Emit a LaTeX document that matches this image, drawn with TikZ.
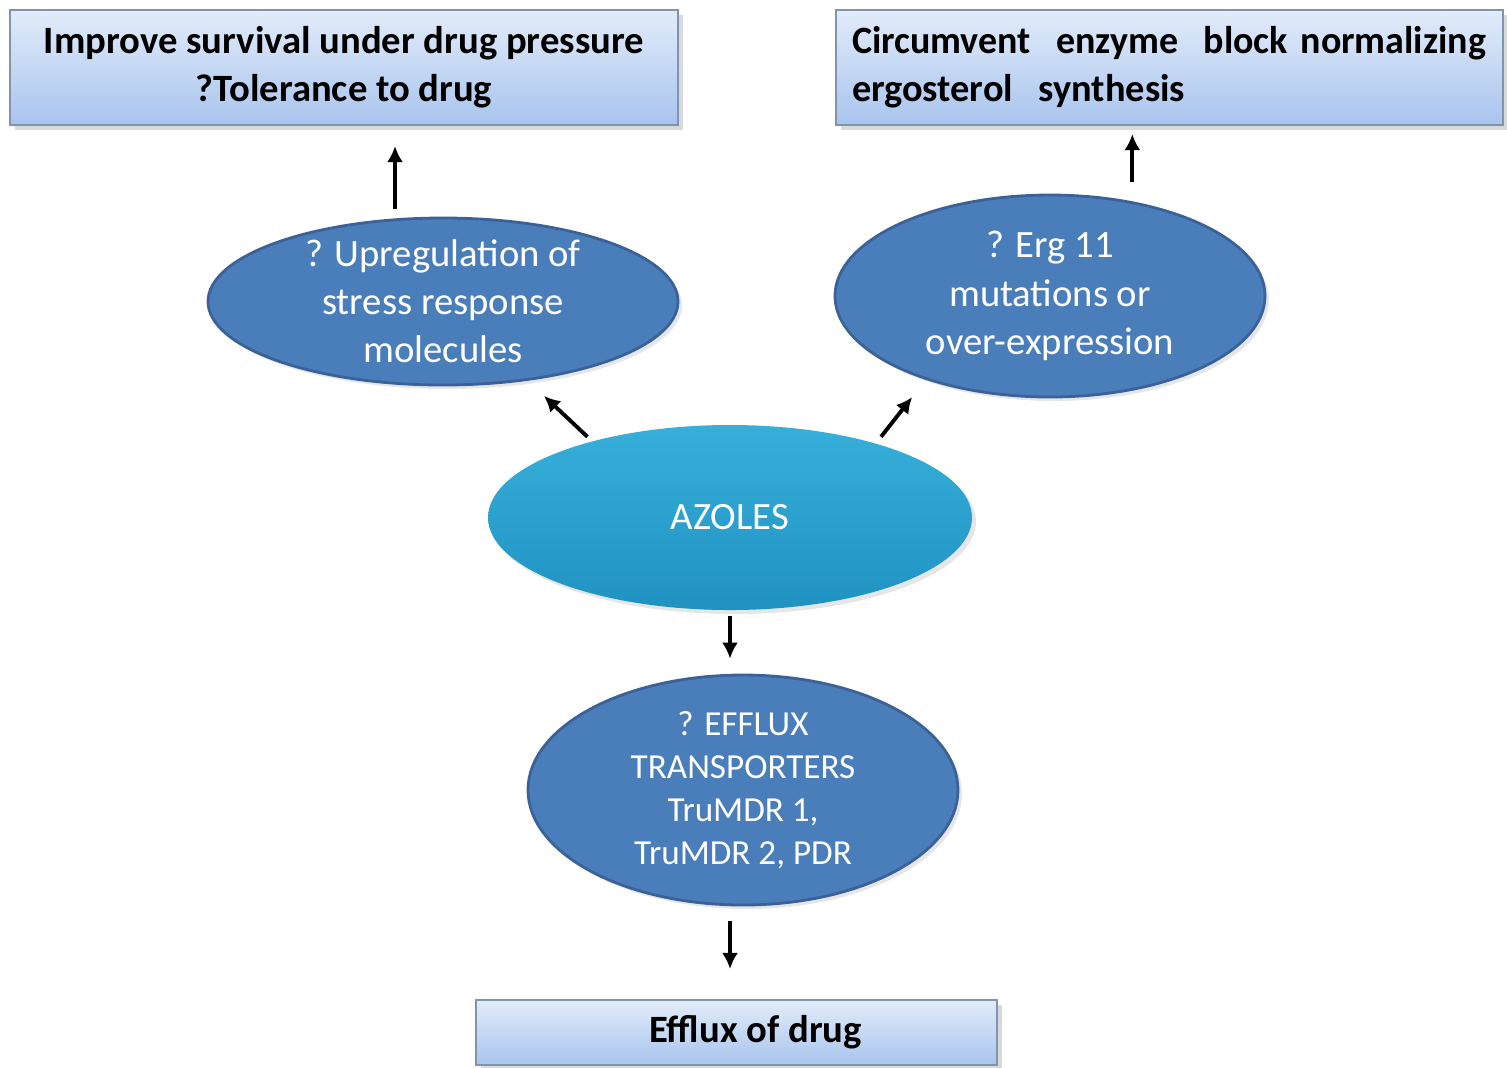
\documentclass[tikz,border=0pt]{standalone}
\usepackage{fontspec}
\setmainfont{Carlito}
\usetikzlibrary{shapes.geometric,arrows.meta,shadows}
\definecolor{boxtop}{HTML}{E2ECF9}
\definecolor{boxbot}{HTML}{A8C4EE}
\definecolor{boxline}{HTML}{8194AE}
\definecolor{ellfill}{HTML}{4A7EBB}
\definecolor{ellline}{HTML}{3A6298}
\definecolor{aztop}{HTML}{38AFDA}
\definecolor{azbot}{HTML}{1F92C2}
\tikzset{
  goal/.style={draw=boxline, line width=0.6pt, top color=boxtop, bottom color=boxbot,
    minimum width=6.68cm, minimum height=1.15cm, inner sep=0pt, align=center,
    font=\fontsize{11}{13.7}\selectfont\bfseries,
    drop shadow={shadow xshift=0.5mm, shadow yshift=-0.5mm, opacity=0.3}},
  cause/.style={ellipse, draw=ellline, line width=0.8pt, fill=ellfill, text=white,
    inner xsep=0pt, inner ysep=-1mm, align=center,
    font=\fontsize{11}{13.7}\selectfont,
    drop shadow={shadow xshift=0.4mm, shadow yshift=-0.4mm, opacity=0.2}},
  drug/.style={ellipse, top color=aztop, bottom color=azbot, text=white,
    inner sep=0pt, font=\fontsize{11}{13.7}\selectfont,
    drop shadow={shadow xshift=0.4mm, shadow yshift=-0.4mm, opacity=0.2}},
  push/.style={-{Latex[length=1.6mm,width=1.6mm]}, line width=1.1pt}
}
\newcommand{\fitline}[2]{\resizebox{#1}{\height}{#2}}
\begin{document}
\begin{tikzpicture}
      \useasboundingbox (0,0) rectangle (15.07,-10.67);
      \draw
        (3.44,-0.675) node[goal] (tl){Improve survival under drug pressure\\?Tolerance to drug}
        (11.695,-0.675) node[goal, minimum width=6.67cm, text width=6.35cm, align=left] (tr){\fitline{6.34cm}{Circumvent~ enzyme~ block normalizing}\\\fitline{3.33cm}{ergosterol~ synthesis}}
        (4.43,-3.015) node[cause, minimum width=4.7cm, minimum height=1.67cm] (up){? Upregulation of\\stress response\\molecules}
        (10.50,-2.96) node[cause, minimum width=4.3cm, minimum height=2.02cm] (erg){? Erg 11\\mutations or\\over-expression}
        (7.30,-5.175) node[drug, minimum width=4.84cm, minimum height=1.85cm] (az){AZOLES}
        (7.43,-7.90) node[cause, minimum width=4.3cm, minimum height=2.3cm, font=\fontsize{10}{12.2}\selectfont] (ef){? EFFLUX\\TRANSPORTERS\\TruMDR 1,\\TruMDR 2, PDR}
        (7.365,-10.325) node[goal, minimum width=5.21cm, minimum height=0.65cm] (out){\hspace*{0.38cm}Efflux of drug};
      \begin{scope}[push]
        \draw[shorten <=0.09cm, shorten >=0.2cm] (up.120) to (up.120 |- tl.south);
        \draw[shorten <=0.19cm, shorten >=0.08cm] (erg.49) to (erg.49 |- tr.south);
        \draw[shorten <=0.06cm, shorten >=0.22cm] (az.151) to (up.317);
        \draw[shorten <=0.08cm, shorten >=0.22cm] (az.27) to (erg.214);
        \draw[shorten <=0.05cm, shorten >=0.15cm] (az.south) to (az.south |- ef.north);
        \draw[shorten <=0.15cm, shorten >=0.3cm] (az.south |- ef.south) to (az.south |- out.north);
      \end{scope}
    \end{tikzpicture}
\end{document}
